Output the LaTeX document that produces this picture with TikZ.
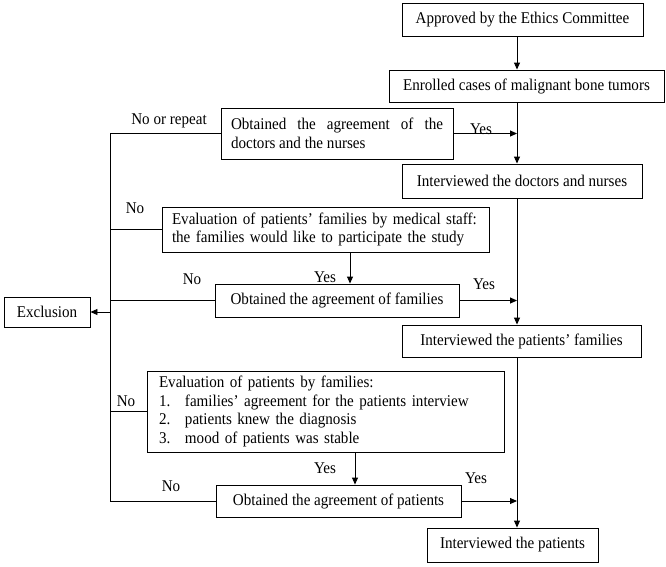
\documentclass[tikz,border=0pt]{standalone}
\usepackage{fontspec}
\setmainfont{Liberation Serif}[FakeStretch=0.92]
\usetikzlibrary{arrows.meta,calc}
\begin{document}
\begin{tikzpicture}[x=1pt,y=-1pt,
  every node/.style={font=\fontsize{16.4}{18.5}\selectfont},
  box/.style={draw,line width=0.9pt,inner sep=0pt,align=center},
  mbox/.style={draw,line width=0.9pt,inner xsep=10pt,inner ysep=0pt},
  lbl/.style={inner sep=0pt},
  arr/.style={line width=0.9pt,-{Triangle[length=7pt,width=6pt]}},
  ln/.style={line width=0.9pt}]
\useasboundingbox (0,0) rectangle (666,566);
\coordinate (spine) at (517,0);
\coordinate (rail) at (110,0);

\node[box,minimum width=241pt,minimum height=33pt] (b1) at (522.5,19.5) {Approved by the Ethics Committee};
\node[box,minimum width=275pt,minimum height=32pt] (b2) at (526.5,86) {Enrolled cases of malignant bone tumors};
\node[mbox,text width=212pt,minimum height=51pt,align=justify] (b3) at (337,133.5) {Obtained the agreement of the\linebreak doctors and the nurses};
\node[box,minimum width=240pt,minimum height=34pt] (b4) at (522,181) {Interviewed the doctors and nurses};
\node[mbox,text width=307pt,minimum height=45pt,align=left] (b5) at (325.5,229.5) {Evaluation of patients’ families by medical staff:\\the families would like to participate the study};
\node[box,minimum width=244pt,minimum height=33pt] (b6) at (337,300.5) {Obtained the agreement of families};
\node[box,minimum width=86pt,minimum height=30pt] (ex) at (47,312) {Exclusion};
\node[box,minimum width=239pt,minimum height=32pt] (b7) at (521.5,341) {Interviewed the patients’ families};
\node[mbox,inner xsep=12pt,text width=333pt,minimum height=81pt,align=left] (b8) at (325.5,411.5) {Evaluation of patients by families:\\
\makebox[26pt][l]{1.}families’ agreement for the patients interview\\
\makebox[26pt][l]{2.}patients knew the diagnosis\\
\makebox[26pt][l]{3.}mood of patients was stable};
\node[box,minimum width=245pt,minimum height=32pt] (b9) at (338.5,501) {Obtained the agreement of patients};
\node[box,minimum width=171pt,minimum height=34pt] (b10) at (512.5,545) {Interviewed the patients};

% labels
\node[lbl] (l1) at (169,121) {No or repeat};
\node[lbl] (l2) at (481,129) {Yes};
\node[lbl] (l3) at (135,208) {No};
\node[lbl] (l4) at (325,277) {Yes};
\node[lbl] (l5) at (192,279) {No};
\node[lbl] (l6) at (484,284) {Yes};
\node[lbl] (l7) at (126,401) {No};
\node[lbl] (l8) at (325,468) {Yes};
\node[lbl] (l9) at (171,486) {No};
\node[lbl] (l10) at (476,478) {Yes};

% spine
\draw[arr] (b1.south -| spine) -- (b2.north -| spine);
\draw[arr] (b2.south -| spine) -- (b4.north -| spine);
\draw[arr] (b4.south -| spine) -- (b7.north -| spine);
\draw[arr] (b7.south -| spine) -- (b10.north -| spine);
\draw[arr] (b3.east) -- (b3.east -| spine);
\draw[arr] (b6.east) -- (b6.east -| spine);
\draw[arr] (b9.east) -- (b9.east -| spine);
% downward yes
\draw[arr] ([xshift=24.5pt]b5.south) -- ([xshift=24.5pt]b5.south |- b6.north);
\draw[arr] ([xshift=29.5pt]b8.south) -- ([xshift=29.5pt]b8.south |- b9.north);
% rail
\draw[ln] (b3.west) -- (b3.west -| rail) -- (b9.west -| rail) -- (b9.west);
\draw[ln] (b5.west) -- (b5.west -| rail);
\draw[ln] (b6.west) -- (b6.west -| rail);
\draw[ln] (b8.west) -- (b8.west -| rail);
\draw[arr] (ex.east -| rail) -- (ex.east);
\end{tikzpicture}
\end{document}
